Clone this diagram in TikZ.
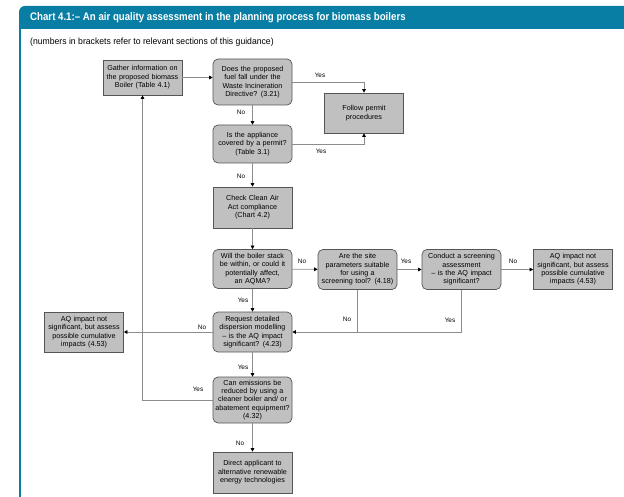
\documentclass[tikz,border=0pt]{standalone}
\usepackage{fontspec}
\setmainfont{Liberation Sans}
\newfontfamily\titlefont[FakeStretch=0.88,Ligatures=TeX]{Liberation Sans}
\newfontfamily\subfont[FakeStretch=0.96,Ligatures=TeX]{Liberation Sans}
\usetikzlibrary{arrows.meta}
\definecolor{hdr}{RGB}{8,126,164}
\definecolor{boxfill}{RGB}{192,192,192}
\definecolor{boxline}{RGB}{85,85,85}
\definecolor{connc}{RGB}{140,140,140}
\begin{document}
\begin{tikzpicture}[x=1pt,y=-1pt,
  base/.style={draw=boxline, fill=boxfill, line width=0.7pt, minimum width=79pt,
    text width=78pt, align=center, inner sep=0.5pt,
    font=\fontsize{7.2}{8.4}\selectfont},
  sq/.style={base},
  rnd/.style={base, rounded corners=5pt},
  flow/.style={draw=connc, line width=0.7pt, -{Triangle[length=3.5pt,width=3.6pt,color=black]}},
  plain/.style={draw=connc, line width=0.7pt},
  lab/.style={font=\fontsize{6.4}{7.5}\selectfont, inner sep=0.5pt}]
\useasboundingbox (0,0) rectangle (624,497);
% frame
\fill[hdr] (19,29) {[rounded corners=6pt] -- (19,6) -- (80,6)} -- (624,6) -- (624,29) -- cycle;
\draw[hdr, line width=2pt] (20,28) -- (20,497);
\node[anchor=west, text=white, inner sep=0pt, font=\titlefont\bfseries\fontsize{11}{13}\selectfont] (title) at (30,18) {Chart 4.1:– An air quality assessment in the planning process for biomass boilers};
\node[anchor=west, inner sep=0pt, font=\subfont\fontsize{9}{10}\selectfont] (subtitle) at (30,42) {(numbers in brackets refer to relevant sections of this guidance)};
% nodes
\node[sq, minimum height=35pt] (gather) at (142.5,77.5) {Gather information on\\the proposed biomass\\Boiler (Table 4.1)};
\node[rnd, minimum height=46pt] (does) at (252.5,82) {Does the proposed\\fuel fall under the\\Waste Incineration\\Directive? (3.21)};
\node[sq, minimum height=40pt] (follow) at (364,113) {Follow permit\\procedures};
\node[rnd, minimum height=38pt] (is) at (252.5,144) {Is the appliance\\covered by a permit?\\(Table 3.1)};
\node[sq, minimum height=41pt] (check) at (252.5,207.5) {Check Clean Air\\Act compliance\\(Chart 4.2)};
\node[rnd, minimum height=39pt] (will) at (252.5,269) {Will the boiler stack\\be within, or could it\\potentially affect,\\an AQMA?};
\node[rnd, minimum height=40pt] (are) at (357.5,269.5) {Are the site\\parameters suitable\\for using a\\screening tool? (4.18)};
\node[rnd, minimum height=40pt] (conduct) at (461.5,269.5) {Conduct a screening\\assessment\\– is the AQ impact\\significant?};
\node[sq, minimum height=40pt] (aqr) at (573,269.5) {AQ impact not\\significant, but assess\\possible cumulative\\impacts (4.53)};
\node[rnd, minimum height=40pt] (request) at (252.5,332) {Request detailed\\dispersion modelling\\– is the AQ impact\\significant? (4.23)};
\node[sq, minimum height=40pt] (aql) at (84,332) {AQ impact not\\significant, but assess\\possible cumulative\\impacts (4.53)};
\node[rnd, minimum height=46pt] (can) at (252.5,400) {Can emissions be\\reduced by using a\\cleaner boiler and/ or\\abatement equipment?\\(4.32)};
\node[sq, minimum height=41pt] (direct) at (252.5,472.5) {Direct applicant to\\alternative renewable\\energy technologies};
% connectors
\draw[flow] (gather.east) -- (gather.east -| does.west);
\draw[flow] (does.east) -- (does.east -| follow.north) -- (follow.north);
\draw[flow] (is.east) -- (is.east -| follow.south) -- (follow.south);
\draw[flow] (does) -- (is);
\draw[flow] (is) -- (check);
\draw[flow] (check) -- (will);
\draw[flow] (will) -- (are);
\draw[flow] (are) -- (conduct);
\draw[flow] (conduct) -- (aqr);
\draw[flow] (will) -- (request);
\draw[plain] (conduct.south) -- (conduct.south |- request.east) -- (are.south |- request.east);
\draw[flow] (are.south) -- (are.south |- request.east) -- (request.east);
\draw[flow] (request) -- (aql);
\draw[flow] (request) -- (can);
\draw[flow] (can.west) -- (can.west -| gather.south) -- (gather.south);
\draw[flow] (can) -- (direct);
% labels
\node[lab] (l1) at (320,75) {Yes};
\node[lab] (l2) at (321,151) {Yes};
\node[lab] (l3) at (241,112) {No};
\node[lab] (l4) at (241,176) {No};
\node[lab] (l5) at (302,261) {No};
\node[lab] (l6) at (406,261) {Yes};
\node[lab] (l7) at (513,261) {No};
\node[lab] (l8) at (243,300) {Yes};
\node[lab] (l9) at (347,319) {No};
\node[lab] (l10) at (450,320) {Yes};
\node[lab] (l11) at (202,327) {No};
\node[lab] (l12) at (243,367) {Yes};
\node[lab] (l13) at (198,389) {Yes};
\node[lab] (l14) at (240,443) {No};
\end{tikzpicture}
\end{document}
